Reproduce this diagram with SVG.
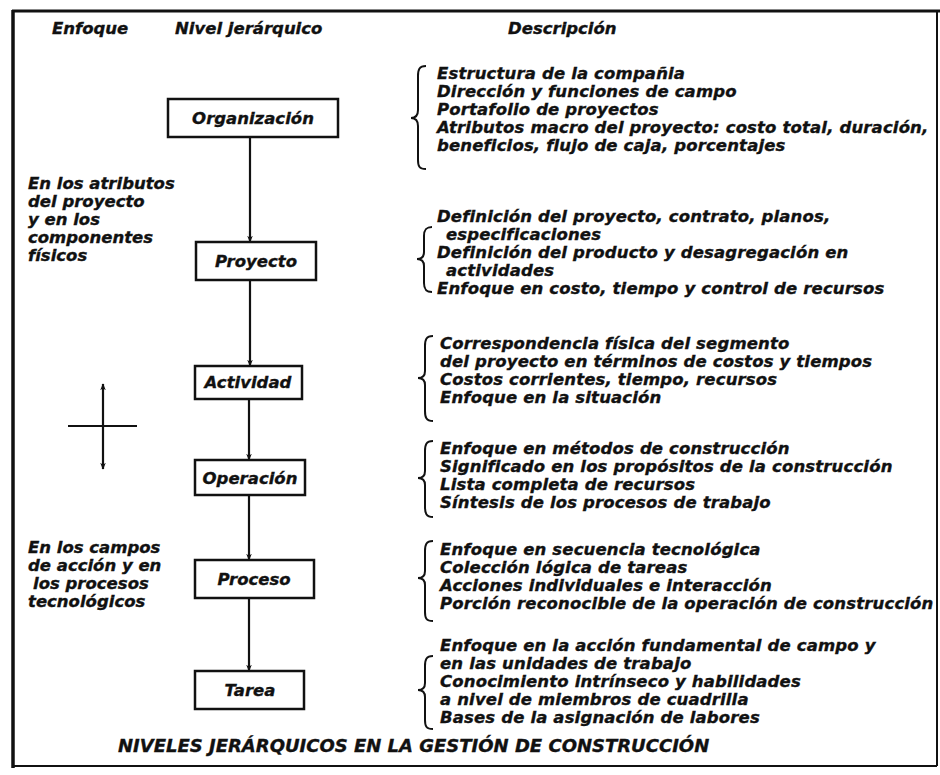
<svg xmlns="http://www.w3.org/2000/svg" width="940" height="775" viewBox="0 0 940 775">
<style>
  text { font-family: "DejaVu Sans", "Liberation Sans", sans-serif; font-weight: bold; font-style: italic; font-size: 16.5px; fill: #111; stroke: #111; stroke-width: 0.35; }
  .desc text { letter-spacing: 0.15px; }
  .title { font-size: 18px; }
  .box { fill: #fff; stroke: #111; stroke-width: 2.5; }
  .lbl { text-anchor: middle; }
  .conn { stroke: #111; stroke-width: 2.2; fill: none; }
  .brace { stroke: #111; stroke-width: 2; fill: none; }
  .frame { stroke: #111; fill: none; }
</style>
<defs>
  <marker id="ah" viewBox="0 0 10 10" refX="9" refY="5" markerWidth="7" markerHeight="7" orient="auto-start-reverse" markerUnits="userSpaceOnUse">
    <path d="M0,1 L10,5 L0,9 L3,5 Z" fill="#111"/>
  </marker>
</defs>
<rect width="940" height="775" fill="#fff"/>
<g id="frame">
  <line class="frame" x1="12" y1="11" x2="940" y2="11" stroke-width="3"/>
  <line class="frame" x1="13" y1="10" x2="13" y2="768" stroke-width="3.5"/>
  <line class="frame" x1="12" y1="766" x2="937" y2="766" stroke-width="2"/>
  <line class="frame" x1="937" y1="10" x2="937" y2="766" stroke-width="2"/>
</g>
<g id="headers">
  <text x="52" y="34">Enfoque</text>
  <text x="175" y="34">Nivel jerárquico</text>
  <text x="508" y="34">Descripción</text>
</g>
<g id="enfoque-1">
  <text x="28" y="189">En los atributos</text>
  <text x="28" y="207">del proyecto</text>
  <text x="28" y="225">y en los</text>
  <text x="28" y="243">componentes</text>
  <text x="28" y="261">físicos</text>
</g>
<g id="enfoque-2">
  <text x="28" y="553">En los campos</text>
  <text x="28" y="571">de acción y en</text>
  <text x="33" y="589">los procesos</text>
  <text x="28" y="607">tecnológicos</text>
</g>
<g id="cross">
  <line class="conn" x1="103" y1="426" x2="103" y2="384" marker-end="url(#ah)"/>
  <line class="conn" x1="103" y1="426" x2="103" y2="469" marker-end="url(#ah)"/>
  <line class="conn" x1="68" y1="426" x2="137" y2="426" stroke-width="1.6"/>
</g>
<g id="connectors">
  <line class="conn" x1="250" y1="137" x2="250" y2="242" marker-end="url(#ah)"/>
  <line class="conn" x1="250" y1="280" x2="250" y2="366" marker-end="url(#ah)"/>
  <line class="conn" x1="249" y1="399" x2="249" y2="460" marker-end="url(#ah)"/>
  <line class="conn" x1="249" y1="495" x2="249" y2="560" marker-end="url(#ah)"/>
  <line class="conn" x1="249" y1="598" x2="249" y2="671" marker-end="url(#ah)"/>
</g>
<g id="organizacion">
  <rect class="box" x="168" y="99" width="170" height="38"/>
  <text class="lbl" x="253" y="124">Organización</text>
</g>
<g id="proyecto">
  <rect class="box" x="196" y="242" width="120" height="38"/>
  <text class="lbl" x="256" y="267">Proyecto</text>
</g>
<g id="actividad">
  <rect class="box" x="195" y="366" width="107" height="33"/>
  <text class="lbl" x="248" y="388">Actividad</text>
</g>
<g id="operacion">
  <rect class="box" x="195" y="460" width="110" height="35"/>
  <text class="lbl" x="250" y="484">Operación</text>
</g>
<g id="proceso">
  <rect class="box" x="195" y="560" width="119" height="38"/>
  <text class="lbl" x="254" y="585">Proceso</text>
</g>
<g id="tarea">
  <rect class="box" x="195" y="671" width="109" height="38"/>
  <text class="lbl" x="250" y="696">Tarea</text>
</g>
<g id="desc-organizacion" class="desc">
  <path class="brace" d="M426,66 C419,66 418,70 418,76 L418,110 C418,115 416,118 411,118 C416,118 418,121 418,126 L418,160 C418,166 419,169 426,169"/>
  <text x="437" y="79">Estructura de la compañia</text>
  <text x="437" y="97">Dirección y funciones de campo</text>
  <text x="437" y="115">Portafolio de proyectos</text>
  <text x="437" y="133">Atributos macro del proyecto: costo total, duración,</text>
  <text x="437" y="151">beneficios, flujo de caja, porcentajes</text>
</g>
<g id="desc-proyecto" class="desc">
  <path class="brace" d="M432,227 C425,227 424,231 424,236 L424,252 C424,256 422,259 417,259 C422,259 424,262 424,266 L424,283 C424,288 425,292 432,292"/>
  <text x="437" y="222">Definición del proyecto, contrato, planos,</text>
  <text x="446" y="240">especificaciones</text>
  <text x="437" y="258">Definición del producto y desagregación en</text>
  <text x="446" y="276">actividades</text>
  <text x="437" y="294">Enfoque en costo, tiempo y control de recursos</text>
</g>
<g id="desc-actividad" class="desc">
  <path class="brace" d="M433,336 C426,336 425,340 425,346 L425,371 C425,375 423,378 418,378 C423,378 425,381 425,385 L425,411 C425,417 426,421 433,421"/>
  <text x="440" y="349">Correspondencia física del segmento</text>
  <text x="440" y="367">del proyecto en términos de costos y tiempos</text>
  <text x="440" y="385">Costos corrientes, tiempo, recursos</text>
  <text x="440" y="403">Enfoque en la situación</text>
</g>
<g id="desc-operacion" class="desc">
  <path class="brace" d="M433,441 C426,441 425,445 425,451 L425,471 C425,475 423,478 418,478 C423,478 425,481 425,485 L425,507 C425,513 426,517 433,517"/>
  <text x="440" y="454">Enfoque en métodos de construcción</text>
  <text x="440" y="472">Significado en los propósitos de la construcción</text>
  <text x="440" y="490">Lista completa de recursos</text>
  <text x="440" y="508">Síntesis de los procesos de trabajo</text>
</g>
<g id="desc-proceso" class="desc">
  <path class="brace" d="M433,541 C426,541 425,545 425,551 L425,571 C425,575 423,578 418,578 C423,578 425,581 425,585 L425,612 C425,618 426,621 433,621"/>
  <text x="440" y="555">Enfoque en secuencia tecnológica</text>
  <text x="440" y="573">Colección lógica de tareas</text>
  <text x="440" y="591">Acciones individuales e interacción</text>
  <text x="440" y="609">Porción reconocible de la operación de construcción</text>
</g>
<g id="desc-tarea" class="desc">
  <path class="brace" d="M433,656 C426,656 425,660 425,666 L425,683 C425,687 423,690 418,690 C423,690 425,693 425,697 L425,720 C425,726 426,729 433,729"/>
  <text x="440" y="651">Enfoque en la acción fundamental de campo y</text>
  <text x="440" y="669">en las unidades de trabajo</text>
  <text x="440" y="687">Conocimiento intrínseco y habilidades</text>
  <text x="440" y="705">a nivel de miembros de cuadrilla</text>
  <text x="440" y="723">Bases de la asignación de labores</text>
</g>
<g id="title">
  <text class="title" x="118" y="752">NIVELES JERÁRQUICOS EN LA GESTIÓN DE CONSTRUCCIÓN</text>
</g>
</svg>
